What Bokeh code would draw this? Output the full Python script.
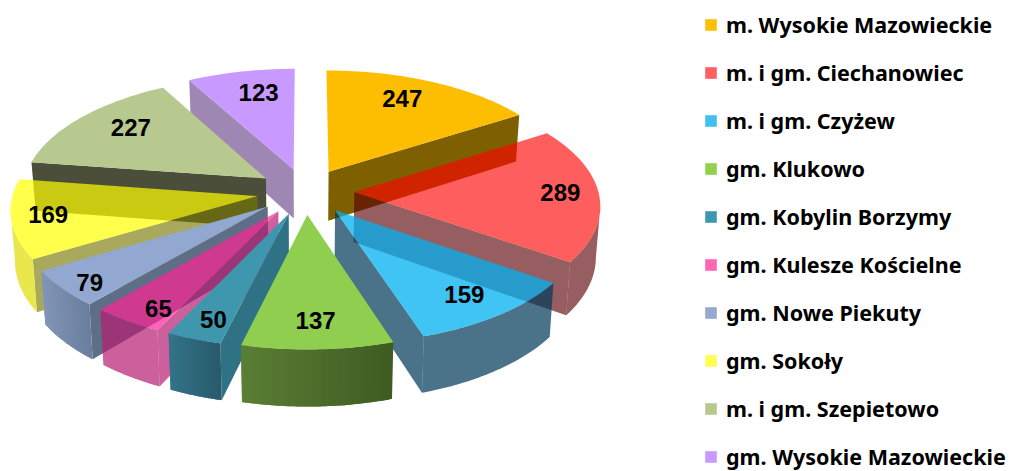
import numpy as np
from bokeh.plotting import figure
from bokeh.models import Legend, LegendItem
from bokeh.embed import file_html
from bokeh.resources import INLINE
from bokeh.core.properties import value

names = ["m. Wysokie Mazowieckie", "m. i gm. Ciechanowiec", "m. i gm. Czyżew", "gm. Klukowo",
         "gm. Kobylin Borzymy", "gm. Kulesze Kościelne", "gm. Nowe Piekuty", "gm. Sokoły",
         "m. i gm. Szepietowo", "gm. Wysokie Mazowieckie"]
values = [247, 289, 159, 137, 50, 65, 79, 169, 227, 123]
legend_colors = ["#FFC000", "#FF5F63", "#40BFF3", "#92D050", "#3F97AE", "#FF66B4", "#95A9D0", "#FFFF50", "#B7C98F", "#C899FF"]
top_colors = ["#FDBD00", "#FF0000", "#00B0F0", "#8FCE4E", "#3F97AE", "#FF2494", "#92A8D0", "#FFFF00", "#B7C98F", "#C899FF"]
top_alpha = [1, .63, .75, 1, 1, .7, 1, .7, 1, 1]
wall_colors = ["#7F6000", "#5A0005", "#003A5A", "#4F7030", "#2F7286", "#B61D72", "#5E6E87", "#777700", "#4B4F39", "#9E87B3"]
wall_alpha = [1, .63, .71, 1, 1, .7, 1, .63, 1, 1]
rim_colors = [None, "#5A0005", "#003A5A", ("#5B7F35", "#3F5C22"), ("#347489", "#295B6C"), "#B61D72",
              ("#8296B8", "#6A7E9E"), "#E8E84C", None, None]
rim_alpha = [1, .63, .71, 1, 1, .7, 1, 1, 1, 1]
label_nudge_x = [-3, 30, 14, 1, -9, -14, -33, -33, 0, 4]
label_nudge_y = [-7, -1, 11, 12, 18, 20, 18, 2, -6, -5]

CX, CY, A, B, K, H, E = 305.0, 191.0, 244.0, 115.4, 0.103, 50.0, 0.2
LABEL_R = 0.72


def proj(X, Y, low=False):
    s = 1 / (1 + K * Y)
    sx = CX + A * X * s * (0.985 if low else 1)
    sy = CY - B * Y * s + (H * s if low else 0)
    return sx, sy


p = figure(width=1021, height=471, x_range=(0, 1021), y_range=(471, 0), output_backend="svg",
           toolbar_location=None, min_border=0, outline_line_color=None, background_fill_color=None,
           border_fill_color=None)
p.axis.visible = False
p.grid.visible = False

cum = np.concatenate([[0], np.cumsum(values)]) / np.sum(values) * 2 * np.pi
order = [9, 8, 7, 6, 0, 1, 2, 5, 4, 3]
label_x, label_y = [0.0] * 10, [0.0] * 10


def face(xs, ys, color, alpha):
    p.patch(list(xs), list(ys), fill_color=color, fill_alpha=alpha, line_color=None)


for i in order:
    a0, a1 = cum[i], cum[i + 1]
    mid = (a0 + a1) / 2
    ex, ey = E * np.sin(mid), E * np.cos(mid)
    th = np.linspace(a0, a1, 50)
    rx, ry = ex + np.sin(th), ey + np.cos(th)
    # cut faces
    for edge, nrm in ((a0, a0 - np.pi / 2), (a1, a1 + np.pi / 2)):
        if np.cos(nrm) < -0.001:
            px = np.array([ex, ex + np.sin(edge)])
            py = np.array([ey, ey + np.cos(edge)])
            tx, ty = proj(px, py)
            lx, ly = proj(px, py, True)
            face(np.r_[tx, lx[::-1]], np.r_[ty, ly[::-1]], wall_colors[i], wall_alpha[i])
    # outer rim, only the part below the silhouette
    full_x = proj(rx, ry)[0]
    idx = np.arange(len(th))
    right_ok = (np.sin(th) >= 0) & (idx >= np.argmax(full_x))
    left_ok = (np.sin(th) < 0) & (idx <= np.argmin(full_x))
    vis = (np.cos(th) < 0) & (right_ok | left_ok)
    if vis.any() and rim_colors[i] is not None:
        tx, ty = proj(rx[vis], ry[vis])
        lx, ly = proj(rx[vis], ry[vis], True)
        rim = rim_colors[i]
        if isinstance(rim, tuple):
            c0 = np.array([int(rim[0][j:j + 2], 16) for j in (1, 3, 5)])
            c1 = np.array([int(rim[1][j:j + 2], 16) for j in (1, 3, 5)])
            n = len(tx)
            xmin, xmax = tx.min(), tx.max()
            # painted from one end, each piece overlapping the next so no seams show
            for j in range(n - 1):
                e = min(j + 3, n)
                f = ((tx[j] + tx[j + 1]) / 2 - xmin) / max(xmax - xmin, 1)
                c = c0 + (c1 - c0) * f
                col = "#%02x%02x%02x" % tuple(int(v) for v in c)
                p.patch(list(np.r_[tx[j:e], lx[j:e][::-1]]), list(np.r_[ty[j:e], ly[j:e][::-1]]),
                        fill_color=col, line_color=None)
        else:
            face(np.r_[tx, lx[::-1]], np.r_[ty, ly[::-1]], rim, rim_alpha[i])
    # top
    tx, ty = proj(np.r_[ex, rx], np.r_[ey, ry])
    face(tx, ty, top_colors[i], top_alpha[i])
    lab_x, lab_y = proj(ex + LABEL_R * np.sin(mid), ey + LABEL_R * np.cos(mid))
    label_x[i], label_y[i] = float(lab_x) + label_nudge_x[i], float(lab_y) + label_nudge_y[i]

p.text(label_x, label_y, text=[str(v) for v in values], text_font=value("Liberation Sans"),
       text_font_style="bold", text_font_size="24px", text_color="#000000", text_align="center",
       text_baseline="middle")

items = []
for name, col in zip(names, legend_colors):
    r = p.quad(left=[np.nan], right=[np.nan], top=[np.nan], bottom=[np.nan], fill_color=col, line_color="#FFFFFF", line_alpha=0.4)
    items.append(LegendItem(label=name, renderers=[r]))
leg = Legend(items=items, location=(703, 0), orientation="vertical", spacing=19, padding=0, margin=0,
             glyph_width=15, glyph_height=15, label_standoff=8, label_height=28,
             label_text_font="Noto Sans", label_text_font_style="bold", label_text_font_size="21.5px",
             label_text_color="#000000", border_line_color=None, background_fill_color=None,
             background_fill_alpha=0, inactive_fill_alpha=0)
p.add_layout(leg)

open("out.html", "w").write(file_html(p, INLINE))
